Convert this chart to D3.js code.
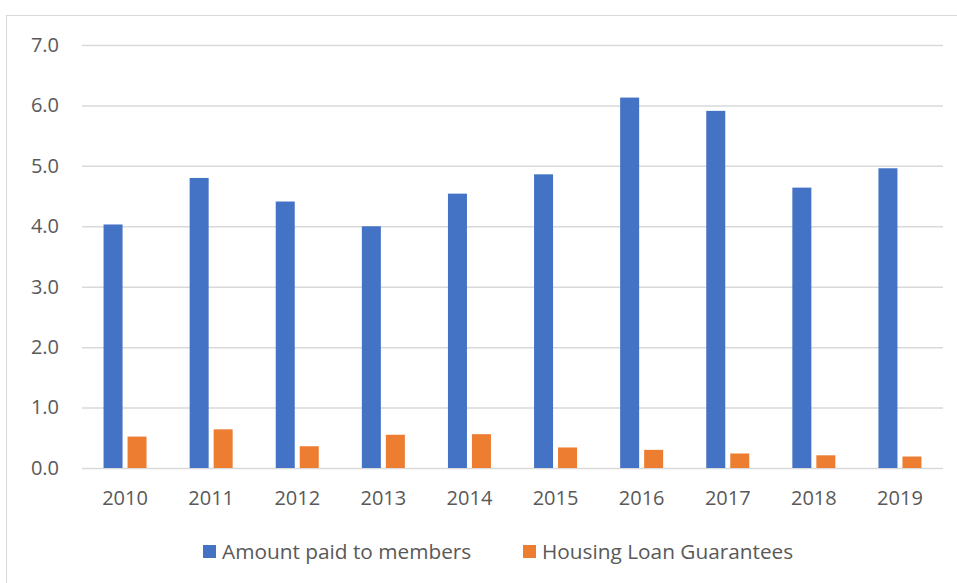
<!DOCTYPE html>
<html>
<head>
<meta charset="utf-8">
<script src="https://cdn.jsdelivr.net/npm/d3@7"></script>
<style>
  html, body { margin: 0; padding: 0; background: #fff; }
  svg { display: block; }
  text { font-family: "Open Sans", "Noto Sans", sans-serif; fill: #595959; }
</style>
</head>
<body>
<svg id="chart" width="957" height="583"></svg>
<script>
// Annual figures, two series per year
const years = ["2010", "2011", "2012", "2013", "2014", "2015", "2016", "2017", "2018", "2019"];
const amountPaid = [4.03, 4.80, 4.41, 4.00, 4.54, 4.86, 6.13, 5.91, 4.64, 4.96];
const housingLoan = [0.52, 0.64, 0.36, 0.55, 0.56, 0.34, 0.30, 0.24, 0.21, 0.19];
const seriesNames = ["Amount paid to members", "Housing Loan Guarantees"];
const seriesColors = ["#4472C4", "#ED7D31"];
const yTicks = [0, 1, 2, 3, 4, 5, 6, 7];

const svg = d3.select("#chart");
const W = 957, H = 583;
const m = { left: 82, right: 14, top: 45, bottom: 115 };

// chart frame
svg.append("rect")
  .attr("x", 6.5).attr("y", 15.5)
  .attr("width", W + 20).attr("height", H + 20)
  .attr("fill", "none").attr("stroke", "#d9d9d9").attr("stroke-width", 1);

const x = d3.scaleBand().domain(years).range([m.left, W - m.right]);
const y = d3.scaleLinear().domain([0, 7]).range([H - m.bottom, m.top]);

// gridlines
const grid = svg.append("g")
  .attr("transform", `translate(${m.left},0)`)
  .call(d3.axisLeft(y).tickValues(yTicks).tickSize(-(W - m.right - m.left)).tickFormat(""));
grid.select(".domain").remove();
grid.selectAll("line").attr("stroke", "#d9d9d9").attr("stroke-width", 1.5);

// y tick labels
const yAxis = svg.append("g")
  .attr("transform", `translate(59,0)`)
  .call(d3.axisLeft(y).tickValues(yTicks).tickSize(0).tickPadding(0).tickFormat(d3.format(".1f")));
yAxis.select(".domain").remove();
yAxis.selectAll("text").style("font-size", "20px").attr("fill", "#595959");

// x tick labels
const xAxis = svg.append("g")
  .attr("transform", `translate(0,${H - m.bottom})`)
  .call(d3.axisBottom(x).tickSize(0).tickPadding(23));
xAxis.select(".domain").remove();
xAxis.selectAll("text").style("font-size", "20px").attr("fill", "#595959");

// grouped bars
const barW = 19, gap = 5;
const inner = d3.scaleBand().domain([0, 1]).range([0, 2 * barW + gap]).paddingInner(gap / (barW + gap));
const series = [amountPaid, housingLoan];
series.forEach((vals, si) => {
  svg.append("g").selectAll("rect")
    .data(vals)
    .join("rect")
    .attr("x", (d, i) => x(years[i]) + x.bandwidth() / 2 - (2 * barW + gap) / 2 + inner(si))
    .attr("y", d => y(d))
    .attr("width", inner.bandwidth())
    .attr("height", d => y(0) - y(d))
    .attr("fill", seriesColors[si]);
});

// legend
const legendItems = [{ x: 203 }, { x: 523 }];
const lg = svg.append("g");
seriesNames.forEach((name, i) => {
  const g = lg.append("g").attr("transform", `translate(${legendItems[i].x},545)`);
  g.append("rect").attr("width", 13).attr("height", 13).attr("fill", seriesColors[i]);
  g.append("text").attr("x", 19).attr("y", 14).style("font-size", "20.8px").text(name);
});
</script>
</body>
</html>
